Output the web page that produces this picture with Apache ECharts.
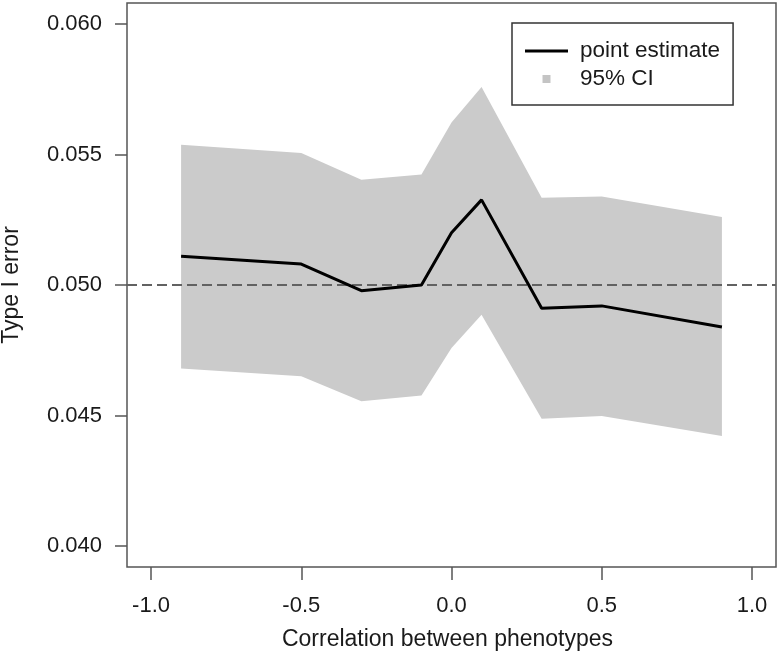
<!DOCTYPE html>
<html>
<head>
<meta charset="utf-8">
<script src="https://cdn.jsdelivr.net/npm/echarts@6/dist/echarts.min.js"></script>
<style>
html,body{margin:0;padding:0;background:#fff;}
#chart{width:779px;height:656px;}
</style>
</head>
<body>
<div id="chart"></div>
<script>
const correlation = [-0.9, -0.5, -0.3, -0.1, 0.0, 0.1, 0.3, 0.5, 0.9];
const pointEstimate = [0.0511, 0.0508, 0.04978, 0.0500, 0.0520, 0.05326, 0.04911, 0.0492, 0.04839];
const ciLower = [0.0468, 0.04651, 0.04555, 0.04577, 0.04759, 0.04886, 0.04488, 0.04498, 0.04422];
const ciUpper = [0.05537, 0.05506, 0.05403, 0.05423, 0.05622, 0.05758, 0.05334, 0.05339, 0.0526];
const xTicks = [-1.0, -0.5, 0.0, 0.5, 1.0];
const yTicks = [0.040, 0.045, 0.050, 0.055, 0.060];
const nominalLevel = 0.05;

const FONT = '"Liberation Sans", Arial, Helvetica, sans-serif';
const TXT = '#1a1a1a';
const AX = '#555';
const BAND = '#cbcbcb';

const chart = echarts.init(document.getElementById('chart'), null, {renderer: 'canvas'});

const bandData = correlation.map((x, i) => [x, ciLower[i], ciUpper[i]]);
const lineData = correlation.map((x, i) => [x, pointEstimate[i]]);

chart.setOption({
  animation: false,
  backgroundColor: '#fff',
  textStyle: {fontFamily: FONT},
  grid: {
    left: 127, right: 3, top: 3, bottom: 89,
    outerBoundsMode: 'none',
    containLabel: false,
    show: true, borderColor: AX, borderWidth: 1.5, backgroundColor: 'transparent'
  },
  legend: {
    orient: 'vertical',
    left: 512, top: 23,
    padding: [15, 13, 13, 13],
    itemGap: 2,
    itemWidth: 43, itemHeight: 8,
    borderColor: '#333', borderWidth: 1.5,
    selectedMode: false,
    textStyle: {fontSize: 22.5, color: TXT, fontFamily: FONT, lineHeight: 26, padding: [0, 0, 0, 7]},
    data: [
      {name: 'point estimate', icon: 'path://M0,0L43,0L43,3L0,3Z', itemStyle: {color: '#000', borderWidth: 0, opacity: 1}},
      {name: '95% CI', icon: 'path://M0,0L1,0L1,1L0,1Z', itemStyle: {color: '#c4c4c4', borderWidth: 0, opacity: 1}}
    ]
  },
  xAxis: {
    type: 'value',
    min: -1.08, max: 1.08,
    name: 'Correlation between phenotypes',
    nameLocation: 'middle',
    nameGap: 61,
    nameTextStyle: {fontSize: 23, color: TXT, fontFamily: FONT, padding: [0, 8, 0, 0]},
    axisLine: {show: false, onZero: false},
    splitLine: {show: false},
    axisTick: {show: true, customValues: xTicks, length: 13, lineStyle: {color: AX, width: 1.5}},
    axisLabel: {
      customValues: xTicks, fontSize: 22, color: TXT, fontFamily: FONT, margin: 28,
      formatter: v => v.toFixed(1)
    }
  },
  yAxis: {
    type: 'value',
    min: 0.0392, max: 0.0608,
    name: 'Type I error',
    nameLocation: 'middle',
    nameGap: 104,
    nameRotate: 90,
    nameTextStyle: {fontSize: 23, color: TXT, fontFamily: FONT},
    axisLine: {show: false, onZero: false},
    splitLine: {show: false},
    axisTick: {show: true, customValues: yTicks, length: 12, lineStyle: {color: AX, width: 1.5}},
    axisLabel: {
      customValues: yTicks, fontSize: 22, color: TXT, fontFamily: FONT, margin: 25,
      formatter: v => v.toFixed(3)
    }
  },
  series: [
    {
      name: '95% CI', type: 'custom', data: bandData,
      encode: {x: 0, y: [1, 2]},
      color: BAND, silent: true, z: 1,
      renderItem: function (params, api) {
        if (params.dataIndex !== 0) return null;
        const pts = [];
        for (let i = 0; i < correlation.length; i++) pts.push(api.coord([correlation[i], ciUpper[i]]));
        for (let i = correlation.length - 1; i >= 0; i--) pts.push(api.coord([correlation[i], ciLower[i]]));
        return {type: 'polygon', shape: {points: pts}, style: {fill: BAND, stroke: null}};
      }
    },
    {
      name: 'point estimate', type: 'line', data: lineData,
      symbol: 'none', color: '#000',
      lineStyle: {color: '#000', width: 3}, z: 3,
      markLine: {
        silent: true, symbol: ['none', 'none'], label: {show: false},
        lineStyle: {type: [10, 5], color: '#626262', width: 2},
        data: [{yAxis: nominalLevel}],
        z: 2
      }
    }
  ]
});
</script>
</body>
</html>
